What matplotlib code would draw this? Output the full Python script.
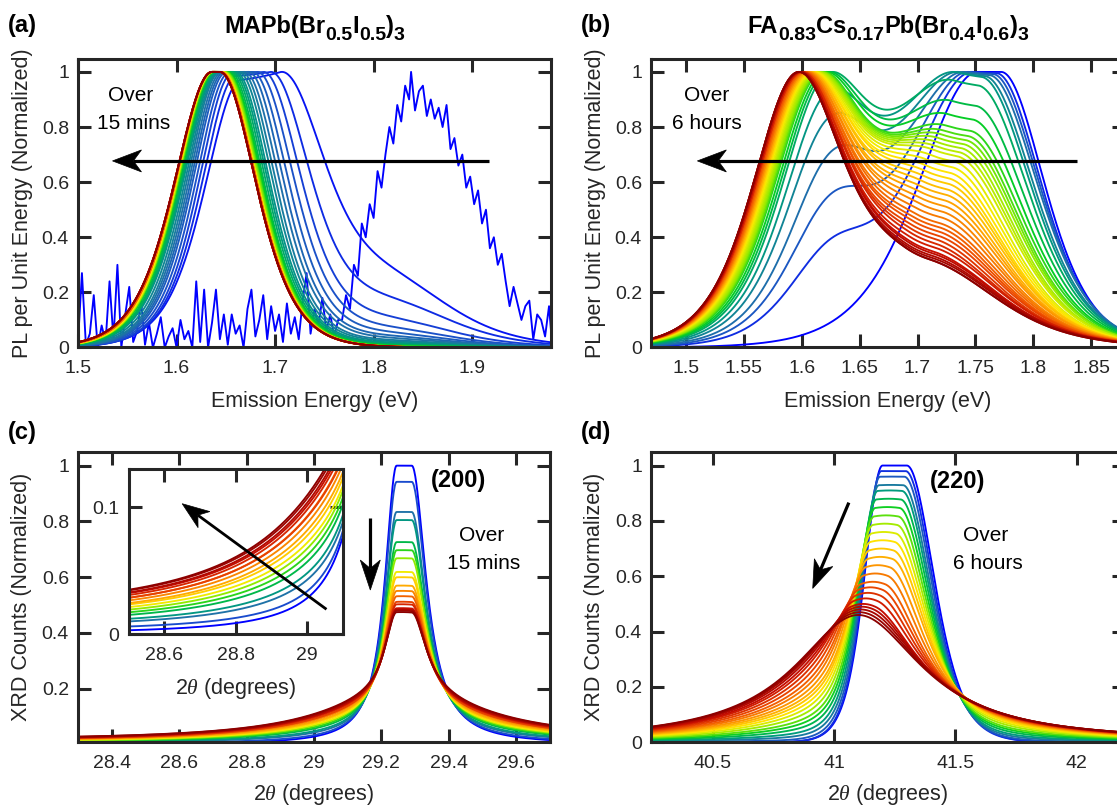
import numpy as np
import matplotlib
matplotlib.use("Agg")
import matplotlib.pyplot as plt
from matplotlib.colors import LinearSegmentedColormap
from matplotlib.patches import Polygon

plt.rcParams.update({
    "font.family": ["Liberation Sans", "DejaVu Sans"],
    "mathtext.fontset": "custom",
    "mathtext.rm": "Liberation Sans",
    "mathtext.bf": "Liberation Sans:bold",
    "mathtext.it": "Liberation Serif:italic",
})

# ---------------- data ----------------
# (a) first (noisy) spectrum, explicit points
a0_x = [1.500, 1.504, 1.508, 1.512, 1.516, 1.520, 1.524, 1.528, 1.532, 1.536, 1.540, 1.544, 1.548, 1.552,
        1.556, 1.560, 1.564, 1.568, 1.572, 1.576, 1.580, 1.584, 1.588, 1.592, 1.596, 1.600, 1.604, 1.608,
        1.612, 1.616, 1.620, 1.624, 1.628, 1.632, 1.636, 1.640, 1.644, 1.648, 1.652, 1.656, 1.660, 1.664,
        1.668, 1.672, 1.676, 1.680, 1.684, 1.688, 1.692, 1.696, 1.700, 1.704, 1.708, 1.712, 1.716, 1.720,
        1.724, 1.728, 1.732, 1.736, 1.740, 1.744, 1.748, 1.752, 1.756, 1.760, 1.764, 1.768, 1.772, 1.776,
        1.780, 1.784, 1.788, 1.792, 1.796, 1.800, 1.804, 1.808, 1.812, 1.816, 1.820, 1.824, 1.828, 1.832,
        1.836, 1.838, 1.842, 1.846, 1.850, 1.854, 1.858, 1.862, 1.866, 1.870, 1.874, 1.878, 1.882, 1.886,
        1.890, 1.894, 1.898, 1.902, 1.906, 1.910, 1.914, 1.918, 1.922, 1.926, 1.930, 1.934, 1.938, 1.942,
        1.946, 1.950, 1.954, 1.958, 1.962, 1.966, 1.970, 1.974, 1.978, 1.980]
a0_y = [0.02, 0.27, 0.01, 0.05, 0.19, 0.00, 0.08, 0.02, 0.24, 0.03, 0.30, 0.00, 0.12, 0.22,
        0.02, 0.06, 0.17, 0.01, 0.09, 0.00, 0.05, 0.11, 0.00, 0.04, 0.07, 0.00, 0.10, 0.03,
        0.06, 0.00, 0.24, 0.02, 0.21, 0.00, 0.09, 0.21, 0.03, 0.12, 0.01, 0.12, 0.05, 0.08,
        0.00, 0.14, 0.21, 0.04, 0.10, 0.19, 0.03, 0.15, 0.06, 0.12, 0.02, 0.16, 0.05, 0.11,
        0.03, 0.17, 0.27, 0.05, 0.14, 0.08, 0.18, 0.06, 0.12, 0.04, 0.10, 0.10, 0.19, 0.14,
        0.30, 0.26, 0.45, 0.40, 0.52, 0.47, 0.64, 0.58, 0.70, 0.80, 0.74, 0.88, 0.82, 0.95,
        0.90, 1.00, 0.86, 0.93, 0.95, 0.84, 0.90, 0.83, 0.87, 0.80, 0.88, 0.72, 0.76, 0.66,
        0.70, 0.58, 0.62, 0.52, 0.57, 0.45, 0.50, 0.36, 0.40, 0.30, 0.34, 0.24, 0.15, 0.22,
        0.16, 0.10, 0.15, 0.17, 0.03, 0.12, 0.10, 0.04, 0.15, 0.06]

# (a) later spectra: plateau start/end, half-max positions, high-energy shoulder amplitude
a_start = [1.665, 1.660, 1.656, 1.653, 1.650, 1.648, 1.646, 1.644, 1.643, 1.642, 1.641, 1.640, 1.639, 1.639, 1.638,
           1.638, 1.637, 1.637, 1.637, 1.636, 1.636, 1.636, 1.636, 1.636, 1.636, 1.636, 1.636, 1.636, 1.636, 1.636]
a_end = [1.705, 1.695, 1.688, 1.682, 1.677, 1.673, 1.669, 1.666, 1.663, 1.660, 1.658, 1.656, 1.654, 1.652, 1.651,
         1.650, 1.649, 1.648, 1.647, 1.646, 1.646, 1.645, 1.645, 1.645, 1.644, 1.644, 1.644, 1.644, 1.644, 1.644]
a_half_lo = [1.622, 1.619, 1.616, 1.613, 1.610, 1.608, 1.606, 1.604, 1.602, 1.600, 1.599, 1.598, 1.597, 1.596, 1.595,
             1.595, 1.594, 1.594, 1.593, 1.593, 1.592, 1.592, 1.592, 1.592, 1.591, 1.591, 1.591, 1.591, 1.591, 1.591]
a_half_hi = [1.758, 1.742, 1.733, 1.726, 1.720, 1.715, 1.711, 1.707, 1.704, 1.701, 1.699, 1.697, 1.695, 1.694, 1.693,
             1.692, 1.691, 1.690, 1.689, 1.689, 1.688, 1.688, 1.688, 1.688, 1.687, 1.687, 1.687, 1.687, 1.687, 1.687]
a_shoulder = [0.22, 0.15, 0.09, 0.06, 0.045, 0.035, 0.028, 0.022, 0.018, 0.014, 0.011, 0.008, 0.006, 0.004, 0.003,
              0.002, 0, 0, 0, 0, 0, 0, 0, 0, 0, 0, 0, 0, 0, 0]

# (b) two-band spectra: low-energy band amplitude/centre, high-energy band amplitude/centre/widths
b_lo_amp = [0.00, 0.28, 0.42, 0.55, 0.66, 0.74, 0.82, 0.90, 0.96, 1.00, 1.00, 1.00, 1.00, 1.00, 1.00, 1.00, 1.00, 1.00,
            1.00, 1.00, 1.00, 1.00, 1.00, 1.00, 1.00, 1.00, 1.00, 1.00, 1.00, 1.00, 1.00, 1.00, 1.00, 1.00, 1.00, 1.00,
            1.00, 1.00, 1.00, 1.00]
b_lo_pos = [1.625, 1.625, 1.625, 1.625, 1.622, 1.620, 1.618, 1.616, 1.614, 1.612, 1.611, 1.610, 1.609, 1.608, 1.607,
            1.606, 1.605, 1.604, 1.603, 1.603, 1.602, 1.602, 1.601, 1.601, 1.600, 1.600, 1.599, 1.599, 1.598, 1.598,
            1.597, 1.597, 1.597, 1.596, 1.596, 1.596, 1.595, 1.595, 1.595, 1.595]
b_hi_amp = [1.00, 1.00, 1.00, 1.00, 1.00, 1.00, 1.00, 1.00, 1.00, 0.98, 0.96, 0.94, 0.92, 0.90, 0.88, 0.86, 0.83, 0.80,
            0.77, 0.74, 0.71, 0.68, 0.65, 0.62, 0.59, 0.56, 0.53, 0.50, 0.48, 0.46, 0.44, 0.42, 0.40, 0.38, 0.36, 0.35,
            0.34, 0.33, 0.32, 0.32]
b_hi_pos = [1.762, 1.758, 1.755, 1.752, 1.748, 1.745, 1.742, 1.740, 1.737, 1.735, 1.733, 1.731, 1.729, 1.727, 1.725,
            1.723, 1.721, 1.719, 1.717, 1.716, 1.715, 1.714, 1.713, 1.712, 1.711, 1.710, 1.709, 1.708, 1.707, 1.706,
            1.705, 1.704, 1.703, 1.703, 1.702, 1.702, 1.701, 1.701, 1.700, 1.700]
b_hi_wl = [0.068, 0.071, 0.074, 0.077, 0.079, 0.081, 0.083, 0.085, 0.086, 0.087, 0.088, 0.088, 0.088, 0.088, 0.088,
           0.088, 0.088, 0.088, 0.088, 0.088, 0.088, 0.088, 0.088, 0.088, 0.088, 0.088, 0.088, 0.088, 0.088, 0.088,
           0.088, 0.088, 0.088, 0.088, 0.088, 0.088, 0.088, 0.088, 0.088, 0.088]
b_hi_wr = [0.050, 0.052, 0.054, 0.056, 0.057, 0.058, 0.059, 0.060, 0.061, 0.062, 0.062, 0.063, 0.064, 0.064, 0.065,
           0.066, 0.066, 0.067, 0.068, 0.068, 0.069, 0.070, 0.070, 0.071, 0.072, 0.072, 0.073, 0.074, 0.074, 0.075,
           0.076, 0.076, 0.077, 0.078, 0.078, 0.079, 0.080, 0.080, 0.080, 0.080]

# (c) (200) reflection: sharp-peak amplitude, broad-component amplitude, background
c_sharp = [1.00, 0.93, 0.80, 0.76, 0.66, 0.62, 0.58, 0.52, 0.49, 0.45, 0.42, 0.39, 0.37, 0.35, 0.33, 0.32, 0.31, 0.30]
c_broad = [0.00, 0.01, 0.03, 0.04, 0.06, 0.07, 0.08, 0.09, 0.10, 0.11, 0.12, 0.13, 0.13, 0.14, 0.145, 0.15, 0.155, 0.16]
c_base = [0.000, 0.002, 0.004, 0.005, 0.006, 0.007, 0.008, 0.009, 0.010, 0.010, 0.011, 0.012, 0.012, 0.013, 0.014,
          0.014, 0.015, 0.015]

# (d) (220) reflection: amplitude, centre, Lorentzian fraction
d_amp = [1.00, 0.98, 0.96, 0.93, 0.91, 0.88, 0.85, 0.82, 0.79, 0.76, 0.73, 0.70, 0.67, 0.64, 0.61, 0.58, 0.56, 0.54,
         0.52, 0.50, 0.49, 0.48, 0.47, 0.46]
d_pos = [41.250, 41.245, 41.240, 41.235, 41.230, 41.225, 41.220, 41.215, 41.210, 41.205, 41.200, 41.195, 41.190,
         41.180, 41.170, 41.160, 41.150, 41.140, 41.130, 41.120, 41.115, 41.110, 41.105, 41.100]
d_lor = [0.00, 0.00, 0.02, 0.05, 0.08, 0.12, 0.16, 0.20, 0.25, 0.30, 0.35, 0.40, 0.45, 0.50, 0.56, 0.62, 0.68, 0.74,
         0.80, 0.85, 0.90, 0.94, 0.97, 1.00]

a_xticks = [1.5, 1.6, 1.7, 1.8, 1.9]
a_xticklabels = ["1.5", "1.6", "1.7", "1.8", "1.9"]
b_xticks = [1.5, 1.55, 1.6, 1.65, 1.7, 1.75, 1.8, 1.85]
b_xticklabels = ["1.5", "1.55", "1.6", "1.65", "1.7", "1.75", "1.8", "1.85"]
c_xticks = [28.4, 28.6, 28.8, 29.0, 29.2, 29.4, 29.6]
c_xticklabels = ["28.4", "28.6", "28.8", "29", "29.2", "29.4", "29.6"]
d_xticks = [40.5, 41.0, 41.5, 42.0]
d_xticklabels = ["40.5", "41", "41.5", "42"]
pl_yticks = [0, 0.2, 0.4, 0.6, 0.8, 1.0]
pl_yticklabels = ["0", "0.2", "0.4", "0.6", "0.8", "1"]
xrd_yticks = [0.2, 0.4, 0.6, 0.8, 1.0]
xrd_yticklabels = ["0.2", "0.4", "0.6", "0.8", "1"]
in_xticks = [28.6, 28.8, 29.0]
in_xticklabels = ["28.6", "28.8", "29"]
in_yticks = [0, 0.1]
in_yticklabels = ["0", "0.1"]

title_a = [("MAPb(Br", False), ("0.5", True), ("I", False), ("0.5", True), (")", False), ("3", True)]
title_b = [("FA", False), ("0.83", True), ("Cs", False), ("0.17", True), ("Pb(Br", False), ("0.4", True),
           ("I", False), ("0.6", True), (")", False), ("3", True)]

# ---------------- style ----------------
ANCHORS = ["#0000ff", "#1a4dcc", "#1f73a6", "#009980", "#00cc26", "#8ceb00",
           "#ffeb00", "#ff9e00", "#ee4d00", "#c70d00", "#8c0000"]
POS_A = [0, .12, .24, .36, .5, .58, .66, .74, .82, .9, 1.0]
POS_B = [0, .04, .08, .13, .2, .3, .45, .6, .75, .88, 1.0]
POS_C = [0, .06, .12, .18, .27, .35, .42, .55, .68, .82, 1.0]
POS_D = [0, .07, .12, .17, .25, .33, .42, .55, .68, .82, 1.0]
DARK = "#262626"
LW = 1.35


def make_cmap(pos):
    return LinearSegmentedColormap.from_list("c", list(zip(pos, ANCHORS)))


def sech2(d):
    return 1.0 / np.cosh(d) ** 2


def plateau_sech2(x, start, end, wl, wr):
    d = np.where(x < start, (start - x) / wl, np.where(x > end, (x - end) / wr, 0.0))
    return sech2(d)


def lor_plateau(x, start, end, hl, hr):
    d = np.where(x < start, (start - x) / hl, np.where(x > end, (x - end) / hr, 0.0))
    return 1.0 / (1.0 + d ** 2)


def style(ax, xticks, xlabels, yticks, ylabels, xlim, ylim, lw=2.2, tl=9.5):
    ax.set_xlim(*xlim)
    ax.set_ylim(*ylim)
    ax.set_xticks(xticks, xlabels)
    ax.set_yticks(yticks, ylabels)
    ax.tick_params(direction="in", length=tl, width=lw, top=True, right=True,
                   labelsize=14, colors=DARK)
    ax.tick_params(axis="x", pad=9)
    ax.tick_params(axis="y", pad=6.5)
    for s in ax.spines.values():
        s.set_linewidth(lw)
        s.set_color(DARK)


def arrow(ax, x0, y0, x1, y1, hl=29, hw=22, notch=0.28, lw=2.3):
    p0 = ax.transData.transform((x0, y0))
    p1 = ax.transData.transform((x1, y1))
    d = p1 - p0
    u = d / np.hypot(*d)
    n = np.array([-u[1], u[0]])
    back = p1 - u * hl
    nb = p1 - u * hl * (1 - notch)
    poly = np.array([p1, back + n * hw / 2, nb, back - n * hw / 2])
    inv = ax.transData.inverted()
    pts = inv.transform(poly)
    nd = inv.transform(nb)
    ax.plot([x0, nd[0]], [y0, nd[1]], color="k", lw=lw, solid_capstyle="butt", zorder=20)
    ax.add_patch(Polygon(pts, closed=True, facecolor="k", edgecolor="k", lw=0.5, zorder=21))


W, H = 1117, 807
fig = plt.figure(figsize=(W / 100, H / 100), dpi=100)


def px_axes(l, t, r, b):
    return fig.add_axes([l / W, 1 - b / H, (r - l) / W, (b - t) / H])


def rich_title(xc_px, base_px, pieces, main=17, sub=14, drop=7):
    r = fig.canvas.get_renderer()
    items = []
    off = 0.0
    for s, is_sub in pieces:
        t = fig.text(0, 0, s, fontsize=sub if is_sub else main, fontweight="bold", ha="left", va="baseline")
        w = t.get_window_extent(r).width
        items.append((t, off, is_sub))
        off += w
    x0 = xc_px - off / 2
    for t, o, is_sub in items:
        t.set_position(((x0 + o) / W, 1 - (base_px + (drop if is_sub else 0)) / H))


axA = px_axes(78, 59.5, 551, 347.5)
axB = px_axes(651, 59.5, 1125, 347.5)
axC = px_axes(78, 451.7, 550, 742.3)
axD = px_axes(651, 451.7, 1125, 742.3)

# ---------------- (a) ----------------
xa = np.linspace(1.49, 1.99, 800)
cmA = make_cmap(POS_A)
nA = len(a_start) + 1
axA.plot(a0_x, a0_y, color=cmA(0.0), lw=LW)
for i in range(len(a_start)):
    wl = (a_start[i] - a_half_lo[i]) / 0.8814
    wr = (a_half_hi[i] - a_end[i]) / 0.8814
    y = plateau_sech2(xa, a_start[i], a_end[i], wl, wr)
    y = y + a_shoulder[i] * plateau_sech2(xa, 1.82, 1.82, 0.085, 0.085)
    y = y / y.max()
    axA.plot(xa, y, color=cmA((i + 1) / (nA - 1)), lw=LW)
style(axA, a_xticks, a_xticklabels, pl_yticks, pl_yticklabels, (1.5, 1.98), (0, 1.045))

# ---------------- (b) ----------------
xb = np.linspace(1.46, 1.90, 800)
cmB = make_cmap(POS_B)
nB = len(b_lo_amp)
for i in range(nB):
    lo = plateau_sech2(xb, b_lo_pos[i], b_lo_pos[i], 0.05, 0.05)
    hi = plateau_sech2(xb, b_hi_pos[i] - 0.01, b_hi_pos[i] + 0.01, b_hi_wl[i], b_hi_wr[i])
    y = b_lo_amp[i] * lo + b_hi_amp[i] * hi
    y = y / y.max()
    axB.plot(xb, y, color=cmB(i / (nB - 1)), lw=LW)
style(axB, b_xticks, b_xticklabels, pl_yticks, pl_yticklabels, (1.47, 1.879), (0, 1.045))


# ---------------- (c) ----------------
def xrd200(x, i):
    sharp = lor_plateau(x, 29.245, 29.29, 0.042, 0.052)
    broad = lor_plateau(x, 29.26, 29.26, 0.28, 0.30)
    return c_sharp[i] * sharp + c_broad[i] * broad + c_base[i]


xc = np.linspace(28.28, 29.72, 900)
cmC = make_cmap(POS_C)
nC = len(c_sharp)
for i in range(nC):
    axC.plot(xc, xrd200(xc, i), color=cmC(i / (nC - 1)), lw=LW)
style(axC, c_xticks, c_xticklabels, xrd_yticks, xrd_yticklabels, (28.3, 29.7), (0.008, 1.05))

# inset
axI = px_axes(128.6, 469.3, 342.9, 634.3)
axI.set_zorder(5)
for i in range(nC):
    axI.plot(xc, xrd200(xc, i), color=cmC(i / (nC - 1)), lw=LW)
style(axI, in_xticks, in_xticklabels, in_yticks, in_yticklabels, (28.5, 29.1), (0, 0.13))


# ---------------- (d) ----------------
def xrd220(x, i):
    c = d_pos[i]
    s = plateau_sech2(x, c - 0.05, c + 0.05, 0.10, 0.15)
    l = 1.0 / (1.0 + ((x - c) / 0.32) ** 2)
    return d_amp[i] * ((1 - d_lor[i]) * s + d_lor[i] * l)


xd = np.linspace(40.2, 42.3, 900)
cmD = make_cmap(POS_D)
nD = len(d_amp)
for i in range(nD):
    axD.plot(xd, xrd220(xd, i), color=cmD(i / (nD - 1)), lw=LW)
style(axD, d_xticks, d_xticklabels, pl_yticks, pl_yticklabels, (40.245, 42.2), (0, 1.05))

# ---------------- labels ----------------
for ax in (axA, axB):
    ax.set_xlabel("Emission Energy (eV)", fontsize=15.5, color=DARK)
    ax.set_ylabel("PL per Unit Energy (Normalized)", fontsize=15.5, color=DARK)
    ax.xaxis.set_label_coords(0.5, -0.15)
    ax.yaxis.set_label_coords(-0.095, 0.5)
for ax in (axC, axD):
    ax.set_xlabel(r"2$\theta$ (degrees)", fontsize=15.5, color=DARK)
    ax.set_ylabel("XRD Counts (Normalized)", fontsize=15.5, color=DARK)
    ax.xaxis.set_label_coords(0.5, -0.135)
    ax.yaxis.set_label_coords(-0.097, 0.5)
axI.set_xlabel(r"2$\theta$ (degrees)", fontsize=15.5, color=DARK)
axI.xaxis.set_label_coords(0.5, -0.25)

rich_title(314.5, 33, title_a)
rich_title(888, 33, title_b)
for lab, x, y in (("(a)", 8, 32), ("(b)", 581, 32), ("(c)", 8, 439), ("(d)", 581, 439)):
    fig.text(x / W, 1 - y / H, lab, ha="left", va="baseline", fontsize=17, fontweight="bold")

axA.text(1.553, 0.915, "Over", ha="center", va="center", fontsize=15)
axA.text(1.556, 0.813, "15 mins", ha="center", va="center", fontsize=15)
axB.text(1.518, 0.915, "Over", ha="center", va="center", fontsize=15)
axB.text(1.518, 0.813, "6 hours", ha="center", va="center", fontsize=15)
axC.text(29.428, 0.948, "(200)", ha="center", va="center", fontsize=17, fontweight="bold")
axC.text(29.497, 0.751, "Over", ha="center", va="center", fontsize=15)
axC.text(29.502, 0.650, "15 mins", ha="center", va="center", fontsize=15)
axD.text(41.51, 0.942, "(220)", ha="center", va="center", fontsize=17, fontweight="bold")
axD.text(41.627, 0.749, "Over", ha="center", va="center", fontsize=15)
axD.text(41.635, 0.647, "6 hours", ha="center", va="center", fontsize=15)

arrow(axA, 1.917, 0.677, 1.535, 0.677)
arrow(axB, 1.838, 0.677, 1.510, 0.677)
arrow(axC, 29.167, 0.811, 29.167, 0.554, hl=30, hw=20)
arrow(axD, 41.061, 0.866, 40.912, 0.556, hl=28, hw=20)
arrow(axI, 29.054, 0.0197, 28.650, 0.1029, hl=27, hw=20, lw=2.0)

fig.savefig("out.png", dpi=100)
